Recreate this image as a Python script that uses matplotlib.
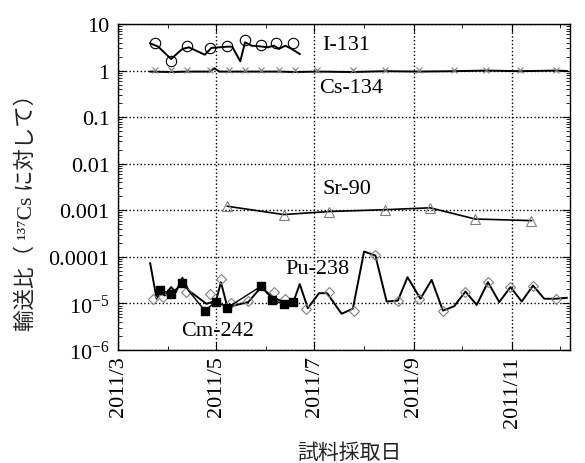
import numpy as np
import pandas as pd
import matplotlib
matplotlib.use("Agg")
import matplotlib.pyplot as plt
import matplotlib.dates as mdates
from matplotlib.ticker import FixedLocator, FixedFormatter, LogLocator, NullFormatter

plt.rcParams['font.family'] = ['Liberation Serif', 'Noto Sans CJK JP']
plt.rcParams['mathtext.fontset'] = 'custom'
plt.rcParams['mathtext.rm'] = 'Liberation Serif'
plt.rcParams['mathtext.it'] = 'Liberation Serif:italic'

# --- I-131 ---
i131_line_dates = ['2011-03-21', '2011-03-26', '2011-04-03', '2011-04-10', '2011-04-14',
                   '2011-04-24', '2011-04-28', '2011-05-03', '2011-05-08', '2011-05-11',
                   '2011-05-16', '2011-05-19', '2011-05-23', '2011-05-28', '2011-06-02',
                   '2011-06-06', '2011-06-09', '2011-06-13', '2011-06-17', '2011-06-22']
i131_line = [3.85, 3.26, 1.77, 2.91, 3.16, 2.19, 3.06, 3.16, 3.26, 3.26,
             1.58, 4.05, 3.42, 3.32, 3.16, 3.42, 2.91, 3.42, 2.91, 2.27]
i131_pt_dates = ['2011-03-24', '2011-04-03', '2011-04-13', '2011-04-27', '2011-05-08',
                 '2011-05-19', '2011-05-29', '2011-06-07', '2011-06-18']
i131_pt = [4.0, 1.63, 3.3, 3.05, 3.4, 4.6, 3.6, 3.9, 3.9]

# --- Cs-134 ---
cs134_line_dates = ['2011-03-21', '2011-04-03', '2011-04-13', '2011-04-27', '2011-04-30',
                    '2011-05-03', '2011-05-19', '2011-06-09', '2011-06-19', '2011-07-03',
                    '2011-07-25', '2011-08-14', '2011-09-04', '2011-09-26', '2011-10-16',
                    '2011-11-06', '2011-11-28', '2011-12-05']
cs134_line = [0.95, 0.93, 0.95, 0.95, 1.12, 0.95, 0.95, 0.95, 0.93, 0.95,
              0.93, 0.97, 0.95, 0.97, 1.0, 0.97, 1.0, 0.98]
cs134_pt_dates = ['2011-03-24', '2011-04-03', '2011-04-13', '2011-04-27', '2011-05-09',
                  '2011-05-19', '2011-05-29', '2011-06-09', '2011-06-19', '2011-07-03',
                  '2011-07-25', '2011-08-14', '2011-09-04', '2011-09-26', '2011-10-16',
                  '2011-11-06', '2011-11-28']
cs134_pt = [1.05] * 17

# --- Sr-90 ---
sr90_dates = ['2011-05-08', '2011-06-12', '2011-07-10', '2011-08-14', '2011-09-11',
              '2011-10-09', '2011-11-13']
sr90 = [1.22e-3, 8.1e-4, 9.4e-4, 1.03e-3, 1.13e-3, 6.5e-4, 6.0e-4]

# --- Pu-238 ---
pu238_line_dates = ['2011-03-21', '2011-03-25', '2011-03-27', '2011-03-30', '2011-04-03',
                    '2011-04-06', '2011-04-10', '2011-04-14', '2011-04-25', '2011-05-01',
                    '2011-05-04', '2011-05-08', '2011-05-21', '2011-05-29', '2011-06-05',
                    '2011-06-12', '2011-06-18', '2011-06-22', '2011-06-27', '2011-07-04',
                    '2011-07-09', '2011-07-18', '2011-07-25', '2011-08-01', '2011-08-08',
                    '2011-08-15', '2011-08-22', '2011-08-28', '2011-09-05', '2011-09-12',
                    '2011-09-19', '2011-09-26', '2011-10-03', '2011-10-10', '2011-10-17',
                    '2011-10-24', '2011-10-31', '2011-11-07', '2011-11-14', '2011-11-21',
                    '2011-11-28', '2011-12-05']
pu238_line = [7.3e-5, 1.26e-5, 1.75e-5, 1.48e-5, 2.24e-5, 1.75e-5, 3.54e-5, 1.89e-5,
              9.8e-6, 1.15e-5, 2.86e-5, 8.3e-6, 1.07e-5, 2.24e-5, 1.36e-5, 1.07e-5,
              1.07e-5, 2.6e-5, 7.9e-6, 1.66e-5, 1.66e-5, 6.0e-6, 7.7e-6, 1.3e-4,
              1.07e-4, 1.1e-5, 1.15e-5, 3.66e-5, 1.26e-5, 3.2e-5, 7.0e-6, 8.7e-6,
              1.8e-5, 9.3e-6, 2.86e-5, 1.07e-5, 2.24e-5, 1.1e-5, 2.42e-5, 1.26e-5,
              1.26e-5, 1.32e-5]
pu238_pt_dates = ['2011-03-23', '2011-03-29', '2011-04-12', '2011-04-27', '2011-05-04',
                  '2011-05-10', '2011-05-21', '2011-06-06', '2011-06-13', '2011-06-26',
                  '2011-07-10', '2011-07-26', '2011-08-08', '2011-08-22', '2011-09-04',
                  '2011-09-19', '2011-10-03', '2011-10-17', '2011-10-31', '2011-11-14',
                  '2011-11-28']
pu238_pt = [1.26e-5, 1.39e-5, 1.75e-5, 1.57e-5, 3.3e-5, 1.03e-5, 1.11e-5, 1.75e-5,
            1.26e-5, 7.7e-6, 1.75e-5, 7.0e-6, 1.1e-4, 1.15e-5, 1.26e-5, 7.0e-6,
            1.8e-5, 2.86e-5, 2.24e-5, 2.42e-5, 1.26e-5]

# --- Cm-242 ---
cm242_dates = ['2011-03-27', '2011-04-03', '2011-04-10', '2011-04-24', '2011-05-01',
               '2011-05-08', '2011-05-29', '2011-06-05', '2011-06-12', '2011-06-18']
cm242 = [1.96e-5, 1.61e-5, 2.73e-5, 7.0e-6, 1.1e-5, 8.1e-6, 2.35e-5, 1.21e-5, 9.5e-6, 1.07e-5]

# axis ticks
ytick_vals = [10, 1, 0.1, 0.01, 0.001, 0.0001, 1e-5, 1e-6]
ytick_labels = ['10', '1', '0.1', '0.01', '0.001', '0.0001', '10$^{-5}$', '10$^{-6}$']
xmajor = ['2011-03-01', '2011-05-01', '2011-07-01', '2011-09-01', '2011-11-01']
xmajor_labels = ['2011/3', '2011/5', '2011/7', '2011/9', '2011/11']
xminor = ['2011-04-01', '2011-06-01', '2011-08-01', '2011-10-01', '2011-12-01']

D = pd.to_datetime

fig = plt.figure(figsize=(5.85, 4.64), dpi=100)
ax = fig.add_axes([118/585, 113/464, 452/585, 326/464])

gray = '#808080'
ax.plot(D(i131_line_dates), i131_line, color='k', lw=1.4, zorder=3)
ax.plot(D(i131_pt_dates), i131_pt, ls='none', marker='o', ms=7.5, mfc='none', mec='k', mew=0.8, zorder=4)

ax.plot(D(cs134_line_dates), cs134_line, color='k', lw=1.4, zorder=3)
ax.plot(D(cs134_pt_dates), cs134_pt, ls='none', marker='x', ms=5, mec=gray, mew=0.8, zorder=4)

ax.plot(D(sr90_dates), sr90, color='k', lw=1.2, zorder=3)
ax.plot(D(sr90_dates), sr90, ls='none', marker='^', ms=7, mfc='none', mec=gray, mew=0.8, zorder=4)

ax.plot(D(pu238_line_dates), pu238_line, color='k', lw=1.4, zorder=3)
ax.plot(D(pu238_pt_dates), pu238_pt, ls='none', marker='D', ms=5, mfc='none', mec=gray, mew=0.8, zorder=4)

ax.plot(D(cm242_dates), cm242, color='k', lw=1.0, marker='s', ms=6, mfc='k', mec='k', zorder=5)

ax.set_yscale('log')
ax.set_ylim(1e-6, 10)
ax.set_xlim(D('2011-03-01'), D('2011-12-07'))

ax.yaxis.set_major_locator(FixedLocator(ytick_vals))
ax.yaxis.set_major_formatter(FixedFormatter(ytick_labels))
ax.yaxis.set_minor_locator(LogLocator(base=10, subs=np.arange(2, 10), numticks=20))
ax.yaxis.set_minor_formatter(NullFormatter())

ax.xaxis.set_major_locator(FixedLocator(mdates.date2num(D(xmajor))))
ax.xaxis.set_major_formatter(FixedFormatter(xmajor_labels))
ax.xaxis.set_minor_locator(FixedLocator(mdates.date2num(D(xminor))))

ax.tick_params(which='both', direction='in', top=True, right=True, labelsize=16)
ax.tick_params(which='major', length=6, width=0.8)
ax.tick_params(which='minor', length=3, width=0.6)
ax.tick_params(axis='y', pad=6)
ax.tick_params(axis='x', pad=4, labelrotation=90)

ax.grid(True, which='major', color='k', ls=':', lw=1.0)
for s in ax.spines.values():
    s.set_linewidth(1.0)

ax.text(D('2011-07-06'), 3.7, 'I-131', fontsize=16, va='center', ha='left')
ax.text(D('2011-07-04'), 0.44, 'Cs-134', fontsize=16, va='center', ha='left')
ax.text(D('2011-07-06'), 2.9e-3, 'Sr-90', fontsize=16, va='center', ha='left')
ax.text(D('2011-06-13'), 5.5e-5, 'Pu-238', fontsize=16, va='center', ha='left')
ax.text(D('2011-04-09'), 2.6e-6, 'Cm-242', fontsize=16, va='center', ha='left')

fig.text(349/585, 1 - 453/464, '試料採取日', fontsize=15, ha='center', va='center',
         family=['Noto Sans CJK JP', 'DejaVu Sans'], color='#222222')
fig.text(26/585, 1 - 207/464, '輸送比（ ¹³⁷Cs に対して）', fontsize=15.5, rotation=90,
         ha='center', va='center', color='#222222',
         family=['Liberation Serif', 'Noto Sans CJK JP'])

fig.savefig('out.png', dpi=100)
